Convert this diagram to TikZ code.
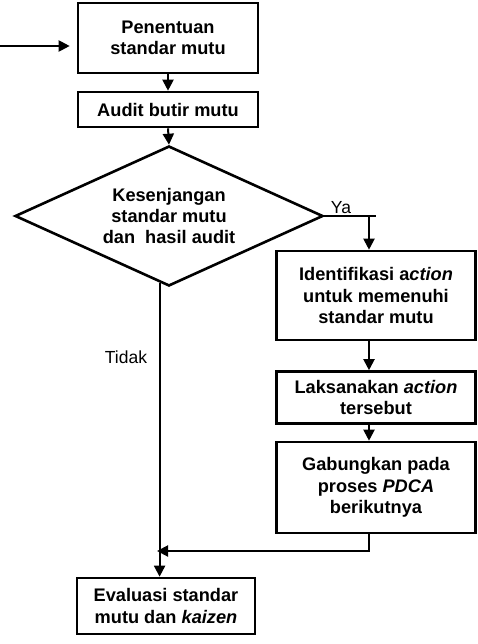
\documentclass[tikz,border=0pt]{standalone}
\usepackage{fontspec}
\setmainfont{Liberation Sans}
\usetikzlibrary{shapes.geometric,arrows.meta,calc}

\begin{document}
\begin{tikzpicture}[x=1pt, y=-1pt,
  box/.style={rectangle, draw, line width=2.6pt, align=center, inner sep=2pt, font=\fontsize{18.2}{21.5}\selectfont\bfseries},
  decision/.style={diamond, draw, line width=2.6pt, align=center, inner sep=0pt, aspect=2.2, minimum width=308pt, minimum height=140pt, font=\fontsize{18.2}{21}\selectfont\bfseries},
  flow/.style={line width=2pt, -{Triangle[length=11pt,width=11pt]}},
  lbl/.style={font=\fontsize{17.5}{21}\selectfont, inner sep=0pt}]
  \useasboundingbox (0,0) rectangle (478,644);

  % Boxes, left column
  \node[box, minimum width=180pt, minimum height=70pt] (pen) at (168,38) {Penentuan\\standar mutu};
  \node[box, minimum width=180pt, minimum height=35pt] (aud) at (168,109.5) {Audit butir mutu};
  \node[decision] (kes) at (169,216) {Kesenjangan\\standar mutu\\dan\ \ hasil audit};
  \node[box, minimum width=178pt, minimum height=56pt] (eva) at (166,606) {Evaluasi standar\\mutu dan \textit{kaizen}};

  % Boxes, right column
  \node[box, minimum width=199pt, minimum height=89pt] (iden) at (376,295.5) {Identifikasi a\textit{ction}\\untuk memenuhi\\standar mutu};
  \node[box, minimum width=199pt, minimum height=52pt] (laks) at (376,397.5) {Laksanakan \textit{action}\\tersebut};
  \node[box, minimum width=199pt, minimum height=91pt] (gab) at (376,487.5) {Gabungkan pada\\proses \textit{PDCA}\\berikutnya};

  % helper points
  \coordinate (start) at (0,46);
  \coordinate (rcol) at (369,216);
  \coordinate (yaend) at (376,216);
  \coordinate (join) at (157,551);

  % Main flow
  \draw[flow, shorten >=7pt] (start) -- (start -| pen.west);
  \draw[flow] (pen.south) -- (aud.north);
  \draw[flow] (aud.south) -- (kes.north);

  % Ya branch
  \draw[line width=2pt] (kes.east) -- (kes.east -| yaend);
  \draw[flow] (kes.east -| rcol) -- (rcol |- iden.north);
  \draw[flow] (iden.south -| rcol) -- (rcol |- laks.north);
  \draw[flow] (laks.south -| rcol) -- (rcol |- gab.north);
  \draw[flow] (gab.south -| rcol) -- (rcol |- join) -- (join);

  % Tidak branch
  \draw[flow] (kes.262) -- (kes.262 |- eva.north);

  % Labels
  \node[lbl, anchor=south] (ya) at (341,214) {Ya};
  \node[lbl] (tidak) at (126,357) {Tidak};
\end{tikzpicture}
\end{document}
